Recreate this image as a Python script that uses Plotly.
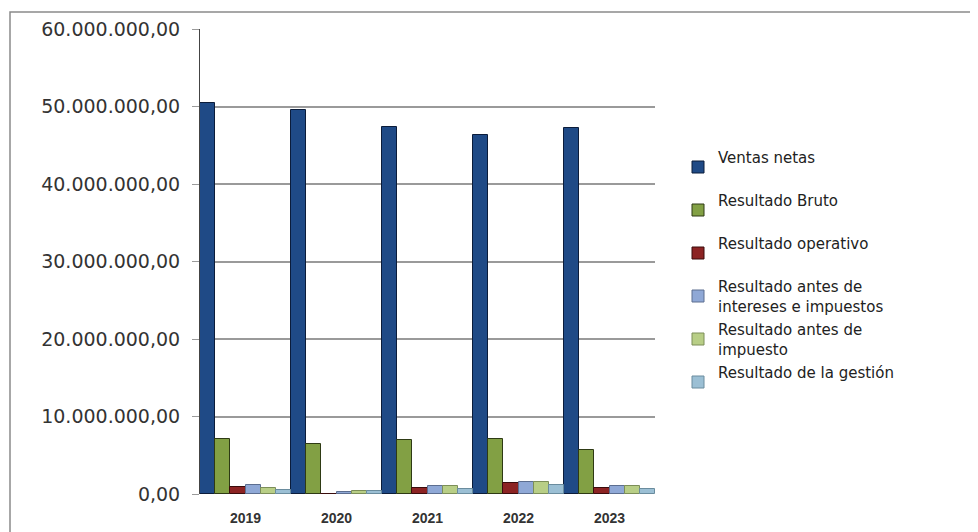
import plotly.graph_objects as go

years = ["2019", "2020", "2021", "2022", "2023"]
ventas_netas = [50400000, 49600000, 47300000, 46300000, 47200000]
resultado_bruto = [7050000, 6400000, 7000000, 7100000, 5700000]
resultado_operativo = [900000, 50000, 800000, 1400000, 800000]
resultado_antes_int_imp = [1100000, 300000, 1000000, 1600000, 1000000]
resultado_antes_imp = [750000, 400000, 1000000, 1600000, 1000000]
resultado_gestion = [500000, 400000, 600000, 1100000, 600000]

series = [
    ("Ventas netas<br>&nbsp;", ventas_netas, "#1F4A86", "#0B1C3A"),
    ("Resultado Bruto<br>&nbsp;", resultado_bruto, "#82A044", "#2E3A14"),
    ("Resultado operativo<br>&nbsp;", resultado_operativo, "#8C2323", "#3A0C0C"),
    ("Resultado antes de<br>intereses e impuestos", resultado_antes_int_imp, "#8FA8D6", "#5C6E90"),
    ("Resultado antes de<br>impuesto", resultado_antes_imp, "#B8CE86", "#7C8E58"),
    ("Resultado de la gestión<br>&nbsp;", resultado_gestion, "#9BBFD4", "#6A8C9E"),
]

fig = go.Figure()
for i, (name, vals, col, lc) in enumerate(series):
    fig.add_trace(go.Bar(
        x=years, y=vals, name=name, legendgroup=str(i),
        marker=dict(color=col, line=dict(color=lc, width=1)),
    ))

# page is offset by the default 8px body margin
W, H = 970, 524
L, R, T, B = 192, 323, 21, 38
pw = W - L - R
ph = H - T - B

def px_x(x):
    return (x - L) / pw

def px_y(y):
    return (H - B - y) / ph

fig.update_layout(
    width=W, height=H,
    margin=dict(l=L, r=R, t=T, b=B, autoexpand=False),
    paper_bgcolor="white", plot_bgcolor="white",
    barmode="group", bargap=0.0, bargroupgap=0.0,
    separators=",.",
    font=dict(family="DejaVu Sans", color="#333333"),
    showlegend=True,
    legend=dict(
        x=px_x(670), y=px_y(133), xanchor="left", yanchor="top",
        font=dict(family="DejaVu Sans", size=15, color="#222222"),
        tracegroupgap=1, itemwidth=30,
        bgcolor="rgba(0,0,0,0)",
    ),
    xaxis=dict(
        showgrid=False, showline=False, ticks="",
        tickfont=dict(family="Arial, Liberation Sans", size=14, color="#333333", weight="bold"),
        ticklabelstandoff=14,
    ),
    yaxis=dict(
        range=[0, 60000000], dtick=10000000,
        tickformat=",.2f",
        showgrid=True, gridcolor="#9a9a9a", gridwidth=1.5,
        showline=True, linecolor="#444444", linewidth=1,
        ticks="outside", ticklen=7, tickcolor="#9a9a9a",
        tickfont=dict(family="DejaVu Sans", size=19, color="#333333"),
        ticklabelstandoff=8,
        zeroline=False,
    ),
    shapes=[
        dict(type="rect", xref="paper", yref="paper",
             x0=px_x(2), x1=px_x(967), y0=px_y(540), y1=px_y(4),
             line=dict(color="#8a8a8a", width=1.5), fillcolor="rgba(0,0,0,0)", layer="below"),
    ],
)

fig.write_html("out.html")
